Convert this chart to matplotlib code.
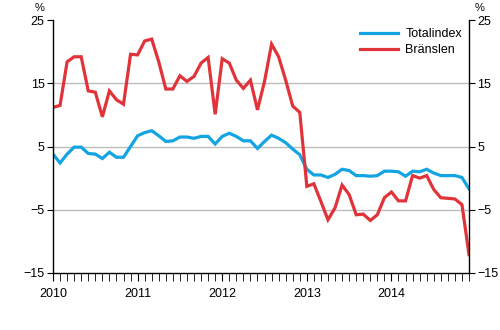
import numpy as np
import matplotlib.pyplot as plt

plt.rcParams['font.family'] = ['Liberation Sans', 'DejaVu Sans']

years = ["2010", "2011", "2012", "2013", "2014"]

totalindex = [3.8, 2.4, 3.8, 4.9, 4.9, 3.9, 3.8, 3.1, 4.1, 3.3, 3.3, 5.0,
              6.7, 7.2, 7.5, 6.7, 5.8, 5.9, 6.5, 6.5, 6.3, 6.6, 6.6, 5.4,
              6.6, 7.1, 6.6, 5.9, 5.9, 4.7, 5.8, 6.8, 6.3, 5.6, 4.6, 3.7,
              1.4, 0.5, 0.5, 0.1, 0.6, 1.4, 1.2, 0.4, 0.4, 0.3, 0.4, 1.1,
              1.1, 1.0, 0.3, 1.1, 1.0, 1.4, 0.8, 0.4, 0.4, 0.4, 0.1, -1.7]

branslen = [11.2, 11.5, 18.4, 19.2, 19.2, 13.8, 13.6, 9.7, 13.8, 12.4, 11.7, 19.6,
            19.5, 21.7, 22.0, 18.4, 14.1, 14.1, 16.2, 15.3, 16.1, 18.2, 19.1, 10.1,
            18.9, 18.2, 15.5, 14.2, 15.5, 10.8, 15.3, 21.2, 19.2, 15.5, 11.4, 10.4,
            -1.3, -0.9, -3.7, -6.6, -4.7, -1.1, -2.6, -5.8, -5.7, -6.7, -5.8, -3.1,
            -2.2, -3.6, -3.6, 0.4, 0.0, 0.4, -1.8, -3.1, -3.2, -3.3, -4.2, -12.1]

x = np.arange(len(totalindex))

fig = plt.figure(figsize=(5, 3.3), dpi=100)
ax = fig.add_axes([0.106, 0.173, 0.832, 0.766])

for v in [-5, 5, 15]:
    ax.axhline(v, color='#bdbdbd', lw=1, zorder=0)

ax.plot(x, totalindex, color='#13a4e3', lw=2.3, label='Totalindex', solid_joinstyle='miter')
ax.plot(x, branslen, color='#e0333a', lw=2.3, label='Bränslen', solid_joinstyle='miter')

ax.set_xlim(0, len(x) - 1)
ax.set_ylim(-15, 25)
ax.set_yticks([-15, -5, 5, 15, 25])
ax.tick_params(axis='y', which='both', labelsize=9, length=4, direction='out',
               left=True, right=True, labelleft=True, labelright=True, pad=2)

ax.set_xticks(np.arange(0, len(x), 12))
ax.set_xticklabels(years)
ax.set_xticks(np.arange(0, len(x)), minor=True)
ax.tick_params(axis='x', which='both', length=6, direction='out', labelsize=9, pad=5)

ax.spines['top'].set_visible(False)
for s in ['left', 'right', 'bottom']:
    ax.spines[s].set_linewidth(1)

fig.text(0.08, 0.977, '%', fontsize=8, ha='center', va='center')
fig.text(0.96, 0.977, '%', fontsize=8, ha='center', va='center')

ax.legend(loc='upper right', frameon=False, fontsize=9, handlelength=3.0,
          handletextpad=0.6, labelspacing=0.35, bbox_to_anchor=(1.01, 1.013))

fig.savefig('out.png', dpi=100)
